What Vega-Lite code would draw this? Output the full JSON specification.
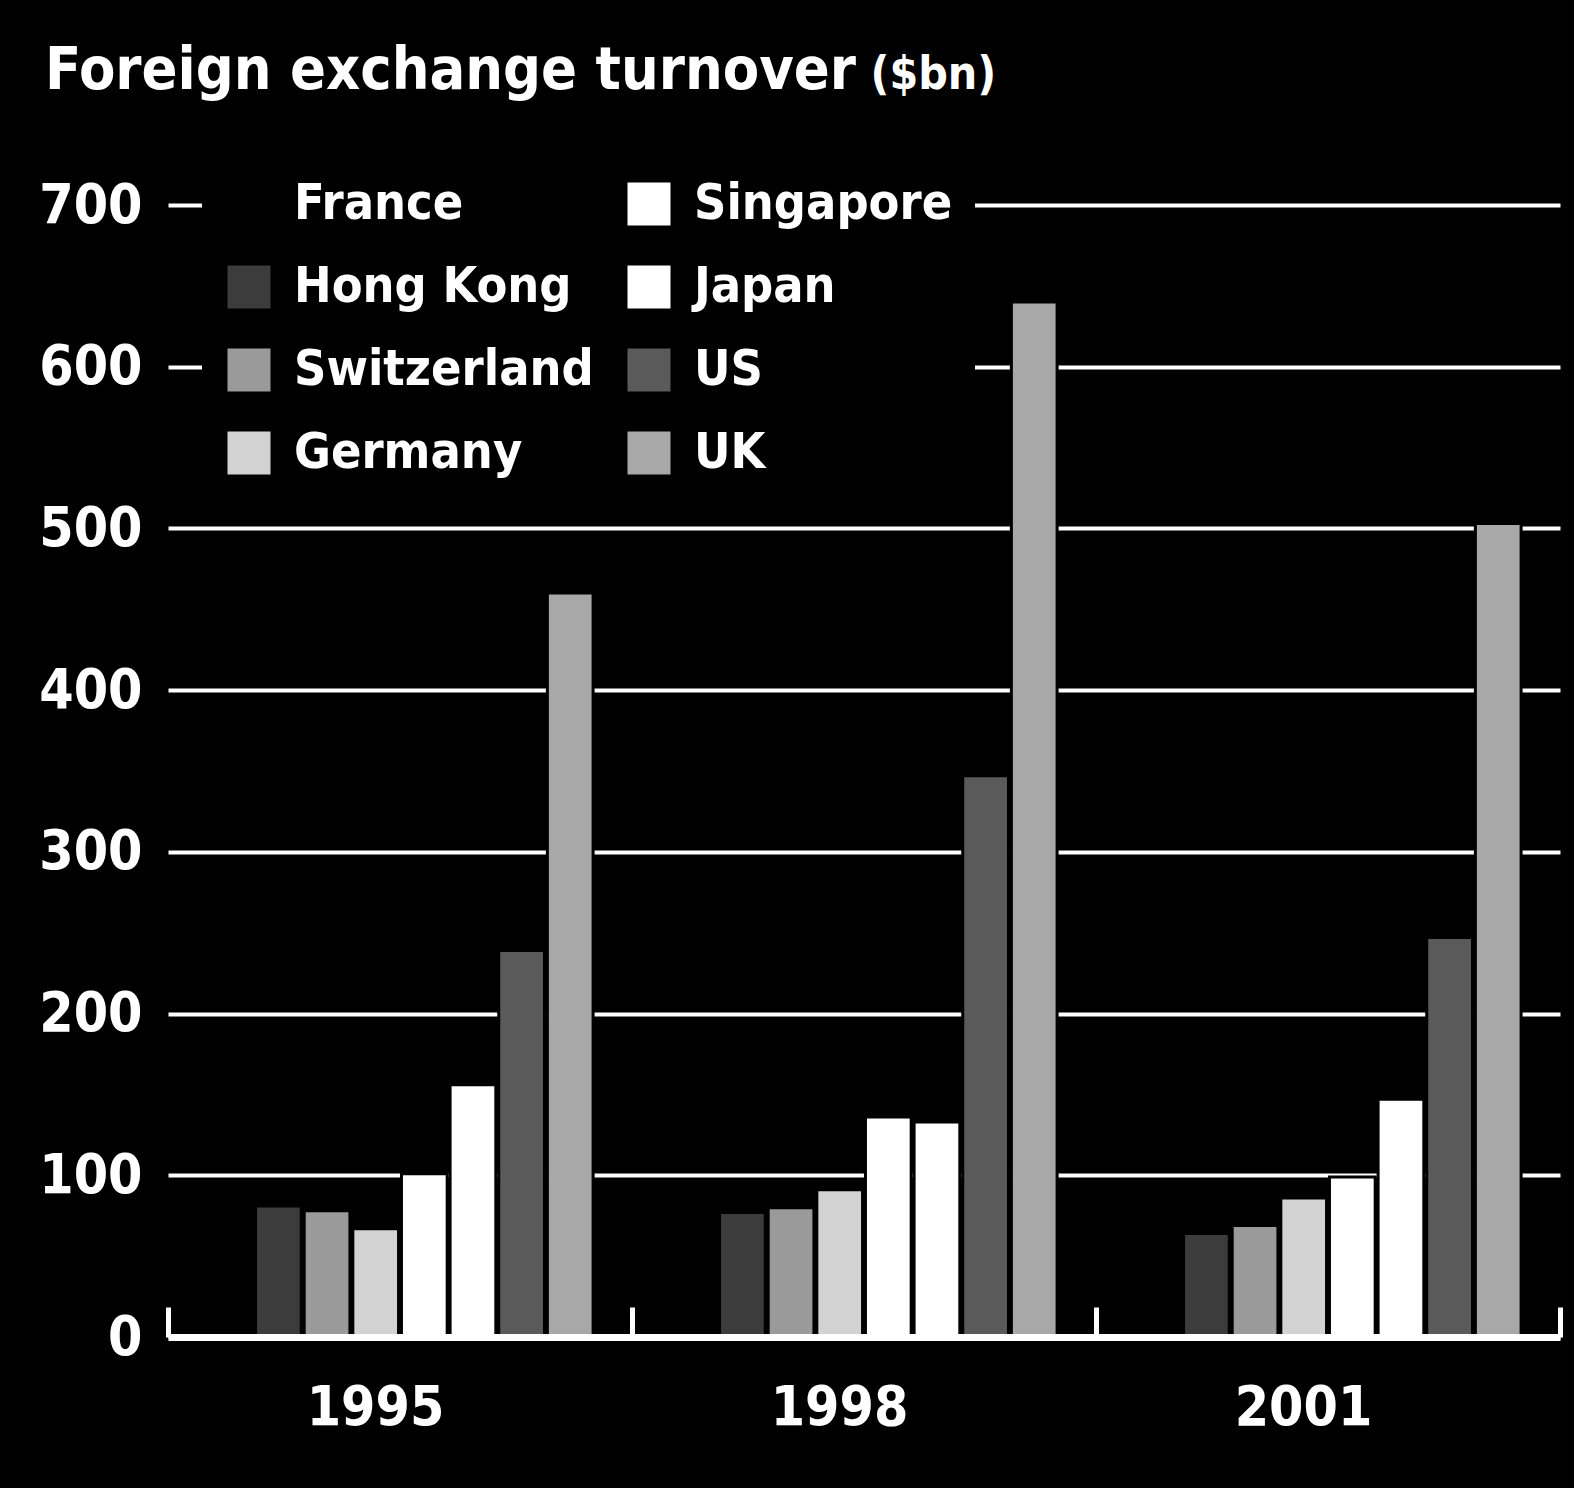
{
  "$schema": "https://vega.github.io/schema/vega-lite/v6.json",
  "width": 1392,
  "height": 1132,
  "autosize": {"type": "none"},
  "padding": {"left": 168, "top": 205, "right": 14, "bottom": 151},
  "background": "#000000",
  "config": {
    "view": {"stroke": null},
    "font": "DejaVu Sans Condensed, Roboto"
  },
  "title": {
    "text": "Foreign exchange turnover",
    "anchor": "start",
    "frame": "group",
    "dx": -123,
    "offset": -50,
    "font": "DejaVu Sans Condensed, Roboto",
    "fontSize": 59,
    "fontWeight": "bold",
    "color": "#ffffff"
  },
  "data": {
    "values": [
      {"year": "1995", "country": "France", "value": 58},
      {"year": "1995", "country": "Hong Kong", "value": 81},
      {"year": "1995", "country": "Switzerland", "value": 78},
      {"year": "1995", "country": "Germany", "value": 67},
      {"year": "1995", "country": "Singapore", "value": 101},
      {"year": "1995", "country": "Japan", "value": 156},
      {"year": "1995", "country": "US", "value": 239},
      {"year": "1995", "country": "UK", "value": 460},
      {"year": "1998", "country": "France", "value": 72},
      {"year": "1998", "country": "Hong Kong", "value": 77},
      {"year": "1998", "country": "Switzerland", "value": 80},
      {"year": "1998", "country": "Germany", "value": 91},
      {"year": "1998", "country": "Singapore", "value": 136},
      {"year": "1998", "country": "Japan", "value": 133},
      {"year": "1998", "country": "US", "value": 347},
      {"year": "1998", "country": "UK", "value": 640},
      {"year": "2001", "country": "France", "value": 48},
      {"year": "2001", "country": "Hong Kong", "value": 64},
      {"year": "2001", "country": "Switzerland", "value": 69},
      {"year": "2001", "country": "Germany", "value": 86},
      {"year": "2001", "country": "Singapore", "value": 99},
      {"year": "2001", "country": "Japan", "value": 147},
      {"year": "2001", "country": "US", "value": 247},
      {"year": "2001", "country": "UK", "value": 503}
    ]
  },
  "mark": {"type": "bar", "stroke": "#000000", "strokeWidth": 3},
  "encoding": {
    "x": {
      "field": "year",
      "type": "nominal",
      "scale": {"paddingInner": 0, "paddingOuter": 0},
      "axis": {
        "title": null,
        "zindex": 1,
        "labelAngle": 0,
        "labelColor": "#ffffff",
        "labelFont": "DejaVu Sans Condensed, Roboto",
        "labelFontSize": 55,
        "labelFontWeight": "bold",
        "labelOffset": -25,
        "labelPadding": 74,
        "domainColor": "#ffffff",
        "domainWidth": 7,
        "tickBand": "extent",
        "tickColor": "#ffffff",
        "tickWidth": 5,
        "tickSize": -30
      }
    },
    "xOffset": {
      "field": "country",
      "sort": ["France", "Hong Kong", "Switzerland", "Germany", "Singapore", "Japan", "US", "UK"],
      "scale": {"paddingInner": 0.06, "paddingOuter": 0.8}
    },
    "y": {
      "field": "value",
      "type": "quantitative",
      "scale": {"domain": [0, 700], "nice": false},
      "axis": {
        "title": "($bn)",
        "titleAngle": 0,
        "titleAlign": "left",
        "titleBaseline": "alphabetic",
        "titleX": 702,
        "titleY": -117,
        "titleColor": "#ffffff",
        "titleFont": "DejaVu Sans Condensed, Roboto",
        "titleFontSize": 46,
        "titleFontWeight": "bold",
        "values": [0, 100, 200, 300, 400, 500, 600, 700],
        "domain": false,
        "ticks": false,
        "labelColor": "#ffffff",
        "labelFont": "DejaVu Sans Condensed, Roboto",
        "labelFontSize": 55,
        "labelFontWeight": "bold",
        "labelPadding": 26,
        "grid": true,
        "gridColor": "#ffffff",
        "gridWidth": 4,
        "gridOpacity": 1
      }
    },
    "color": {
      "field": "country",
      "type": "nominal",
      "scale": {
        "domain": ["France", "Singapore", "Hong Kong", "Japan", "Switzerland", "US", "Germany", "UK"],
        "range": ["#000000", "#ffffff", "#3c3c3c", "#ffffff", "#9a9a9a", "#5a5a5a", "#d2d2d2", "#a8a8a8"]
      },
      "legend": {
        "title": null,
        "orient": "none",
        "legendX": 34,
        "legendY": -48,
        "direction": "horizontal",
        "columns": 2,
        "fillColor": "#000000",
        "padding": 22,
        "symbolType": "square",
        "symbolSize": 1850,
        "symbolStrokeWidth": 0,
        "labelColor": "#ffffff",
        "labelFont": "DejaVu Sans Condensed, Roboto",
        "labelFontSize": 50,
        "labelFontWeight": "bold",
        "labelOffset": 20,
        "labelLimit": 600,
        "columnPadding": 30,
        "rowPadding": 33
      }
    }
  }
}
